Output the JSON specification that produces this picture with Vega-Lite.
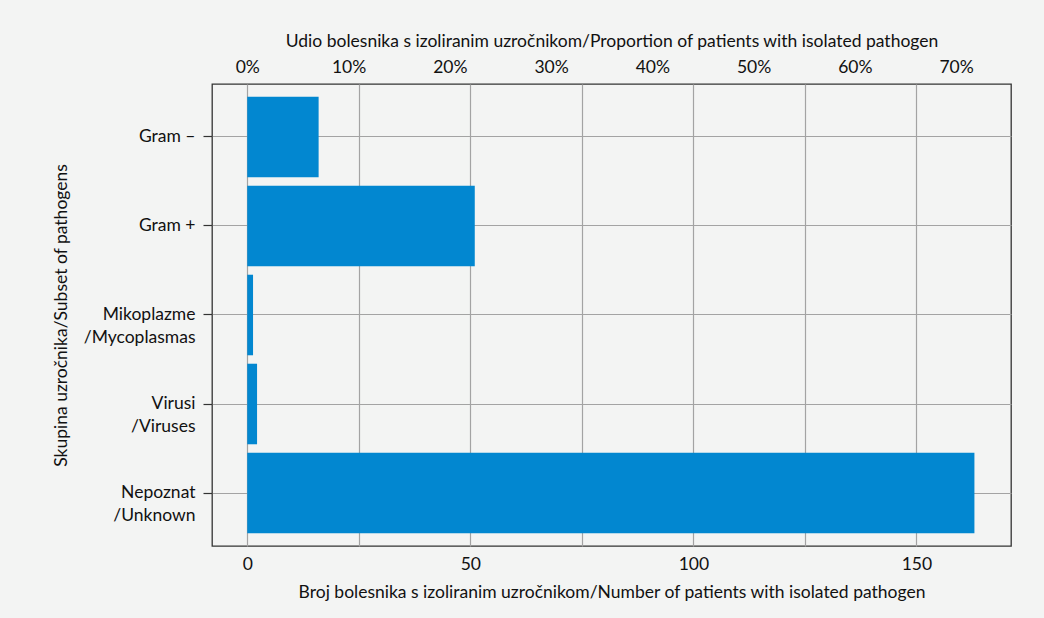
{
  "$schema": "https://vega.github.io/schema/vega-lite/v6.json",
  "autosize": {"type": "none"},
  "width": 799,
  "height": 462,
  "padding": {"left": 212, "top": 84, "right": 33, "bottom": 72},
  "background": "#f3f4f3",
  "config": {
    "view": {"stroke": "#333333", "strokeWidth": 1.3, "fill": "#f3f4f3"},
    "font": "Lato",
    "axis": {"labelFont": "Lato", "titleFont": "Lato", "labelColor": "#111111", "titleColor": "#111111", "titleFontWeight": "normal"}
  },
  "data": {
    "values": [
      {"group": "Gram –", "n": 16, "pct": 0.07},
      {"group": "Gram +", "n": 51, "pct": 0.22},
      {"group": "Mikoplazme\n/Mycoplasmas", "n": 1.3, "pct": 0.006},
      {"group": "Virusi\n/Viruses", "n": 2.2, "pct": 0.01},
      {"group": "Nepoznat\n/Unknown", "n": 163, "pct": 0.72}
    ]
  },
  "layer": [
    {
      "mark": {"type": "bar", "color": "#0287d0"},
      "encoding": {
        "y": {
          "field": "group", "type": "nominal", "sort": null,
          "scale": {"paddingInner": 0.095, "paddingOuter": 0.143},
          "axis": {
            "title": "Skupina uzročnika/Subset of pathogens",
            "titleFontSize": 17.5, "titlePadding": 13,
            "labelFontSize": 17.5, "labelLineHeight": 23, "labelPadding": 8,
            "labelExpr": "split(datum.label, '\\n')",
            "ticks": true, "tickSize": 9, "tickColor": "#333333", "tickWidth": 1.2,
            "domain": false,
            "grid": true, "gridColor": "#a3a3a3", "gridWidth": 1.2
          }
        },
        "x": {
          "field": "n", "type": "quantitative",
          "scale": {"domain": [-7.9, 171.2], "nice": false, "zero": false},
          "axis": {
            "orient": "bottom",
            "title": "Broj bolesnika s izoliranim uzročnikom/Number of patients with isolated pathogen",
            "titleFontSize": 17.5, "titlePadding": 11,
            "values": [0, 25, 50, 75, 100, 125, 150],
            "labelExpr": "datum.value % 50 === 0 ? datum.label : ''",
            "labelFontSize": 17.5, "labelPadding": 9,
            "ticks": false, "domain": false,
            "grid": true, "gridColor": "#a3a3a3", "gridWidth": 1.2
          }
        }
      }
    },
    {
      "mark": {"type": "point", "opacity": 0},
      "encoding": {
        "y": {"field": "group", "type": "nominal", "sort": null},
        "x": {
          "field": "pct", "type": "quantitative",
          "scale": {"domain": [-0.03485, 0.7542], "nice": false, "zero": false},
          "axis": {
            "orient": "top",
            "title": "Udio bolesnika s izoliranim uzročnikom/Proportion of patients with isolated pathogen",
            "titleFontSize": 17.5, "titlePadding": 8,
            "values": [0, 0.1, 0.2, 0.3, 0.4, 0.5, 0.6, 0.7],
            "format": ".0%",
            "labelFontSize": 17.5, "labelPadding": 8,
            "ticks": false, "domain": false, "grid": false
          }
        }
      }
    }
  ],
  "resolve": {"scale": {"x": "independent"}}
}
